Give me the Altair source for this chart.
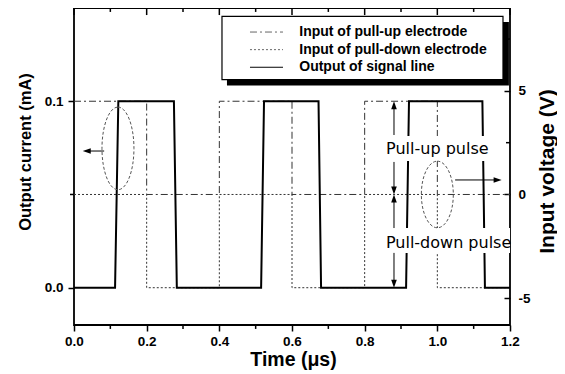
import altair as alt
import pandas as pd

# ---------------- data ----------------
series_names = ["Input of pull-up electrode", "Input of pull-down electrode", "Output of signal line"]

out_time = [0.0, 0.113, 0.122, 0.275, 0.283, 0.515, 0.523, 0.673, 0.680, 0.914, 0.922, 1.124, 1.131, 1.2]
out_current = [0.0, 0.0, 0.1, 0.1, 0.0, 0.0, 0.1, 0.1, 0.0, 0.0, 0.1, 0.1, 0.0, 0.0]

in_time = [0.0, 0.2, 0.4, 0.6, 0.8, 1.0, 1.2]
pullup_volt = [4.5, 0.0, 4.5, 0.0, 4.5, 0.0, 0.0]
pulldown_volt = [0.0, -4.5, 0.0, -4.5, 0.0, -4.5, -4.5]

x_major = [0.0, 0.2, 0.4, 0.6, 0.8, 1.0, 1.2]
x_minor = [0.1, 0.3, 0.5, 0.7, 0.9, 1.1]
left_major = [0.0, 0.1]
left_minor = [0.05]
right_major = [-5, 0, 5]
right_minor = [-2.5, 2.5, 7.5]

annot_labels = ["Pull-up pulse", "Pull-down pulse"]

# ---------------- scales ----------------
W, H = 436, 317
X = alt.Scale(domain=[0, 1.2], nice=False, zero=False)
YI = alt.Scale(domain=[-0.02, 0.15], nice=False, zero=False)
YV = alt.Scale(domain=[-6.3, 9.0], nice=False, zero=False)
dash_scale = alt.Scale(domain=series_names, range=[[7, 3, 2, 3], [2, 2], [1, 0]])
INK = "#333333"
TICK_W = 1.5

# ---------------- main series ----------------
in_df = pd.DataFrame({
    "t": in_time + in_time,
    "v": pullup_volt + pulldown_volt,
    "series": [series_names[0]] * len(in_time) + [series_names[1]] * len(in_time),
})
inputs = alt.Chart(in_df).mark_line(interpolate="step-after", color=INK, strokeWidth=1).encode(
    x=alt.X("t:Q", scale=X, axis=None),
    y=alt.Y("v:Q", scale=YV, axis=alt.Axis(
        orient="right", values=right_major, offset=-6, tickSize=6, labelPadding=8,
        labelExpr="replace(datum.label, '\u2212', '-')",
        title="Input voltage (V)", titleAngle=270, titleX=43, titleY=163,
        titleFontSize=21, titleAlign="center", titleBaseline="middle")),
    strokeDash=alt.StrokeDash("series:N", scale=dash_scale, legend=None),
    detail="series:N",
)

out_df = pd.DataFrame({"t": out_time, "i": out_current})
output = alt.Chart(out_df).mark_line(color="black", strokeWidth=2).encode(
    x=alt.X("t:Q", scale=X, axis=alt.Axis(
        orient="bottom", values=x_major, format=".1f", tickSize=6, labelPadding=3,
        title="Time (μs)", titleX=219, titleY=34, titleFontSize=19.5,
        titleAlign="center", titleBaseline="middle")),
    y=alt.Y("i:Q", scale=YI, axis=alt.Axis(
        orient="left", values=left_major, format=".1f", tickSize=6, labelPadding=5,
        title="Output current (mA)", titleAngle=270, titleX=-49, titleY=143.5,
        titleFontSize=16.5, titleAlign="center", titleBaseline="middle")),
)

# ---------------- extra tick marks (minor ticks and inward mirror ticks) ----------------
def tick_rules(t, t2, y, y2, scale):
    df = pd.DataFrame({"t": t, "t2": t2, "y": y, "y2": y2})
    return alt.Chart(df).mark_rule(color="black", strokeWidth=TICK_W).encode(
        x=alt.X("t:Q", scale=X, axis=None), x2="t2:Q",
        y=alt.Y("y:Q", scale=scale, axis=None), y2="y2:Q")

n_maj, n_min, n_rmin = len(x_major), len(x_minor), len(right_minor)
tick_layers = [
    # top, inward (major longer than minor)
    tick_rules(x_major, x_major, [9.0] * n_maj, [8.66] * n_maj, YV),
    tick_rules(x_minor, x_minor, [9.0] * n_min, [8.81] * n_min, YV),
    # bottom minor, outward
    tick_rules(x_minor, x_minor, [-6.3] * n_min, [-6.49] * n_min, YV),
    # right minor, inward
    tick_rules([1.189] * n_rmin, [1.2] * n_rmin, right_minor, right_minor, YV),
    # left minor, outward
    tick_rules([-0.011], [0.0], left_minor, left_minor, YI),
]

# ---------------- annotations ----------------
rect_df = pd.DataFrame({"x": [0.859, 0.859], "x2": [1.142, 1.2], "y": [2.82, -1.62], "y2": [1.62, -2.82]})
blanks = alt.Chart(rect_df).mark_rect(color="white").encode(
    x=alt.X("x:Q", scale=X, axis=None), x2="x2:Q",
    y=alt.Y("y:Q", scale=YV, axis=None), y2="y2:Q",
)

txt_df = pd.DataFrame({"label": annot_labels, "t": [1.0, 1.031], "v": [2.2, -2.34]})
texts = alt.Chart(txt_df).mark_text(font="DejaVu Sans", fontSize=16, color="black",
                                    align="center", baseline="middle").encode(
    x=alt.X("t:Q", scale=X, axis=None),
    y=alt.Y("v:Q", scale=YV, axis=None),
    text="label:N",
)

ell1_path = "M 0 -1 A 0.387 1 0 1 1 0 1 A 0.387 1 0 1 1 0 -1 Z"
ell1 = alt.Chart(pd.DataFrame({"t": [0.121], "i": [0.0747]})).mark_point(
    shape=ell1_path, size=6823, filled=False, color="#555555", strokeWidth=1,
    strokeDash=[3, 2], opacity=1).encode(
    x=alt.X("t:Q", scale=X, axis=None),
    y=alt.Y("i:Q", scale=YI, axis=None),
)

ell2_path = "M 0 -1 A 0.48 1 0 1 1 0 1 A 0.48 1 0 1 1 0 -1 Z"
ell2 = alt.Chart(pd.DataFrame({"t": [1.0], "v": [0.0]})).mark_point(
    shape=ell2_path, size=4436, filled=False, color="#555555", strokeWidth=1,
    strokeDash=[3, 2], opacity=1).encode(
    x=alt.X("t:Q", scale=X, axis=None),
    y=alt.Y("v:Q", scale=YV, axis=None),
)

# arrow pointing to the current axis (left)
shaft_i = alt.Chart(pd.DataFrame({"t": [0.083], "t2": [0.04], "i": [0.0733]})).mark_rule(
    color="black", strokeWidth=1).encode(
    x=alt.X("t:Q", scale=X, axis=None), x2="t2:Q",
    y=alt.Y("i:Q", scale=YI, axis=None),
)
head_i = alt.Chart(pd.DataFrame({"t": [0.024], "i": [0.0733]})).mark_point(
    shape="M 0 0 L 2 -0.7 L 2 0.7 Z", size=64, filled=True, color="black",
    strokeWidth=0, opacity=1).encode(
    x=alt.X("t:Q", scale=X, axis=None),
    y=alt.Y("i:Q", scale=YI, axis=None),
)

# arrows in voltage units
shaft_df = pd.DataFrame({
    "t": [1.049, 0.8807, 0.8807, 0.8807, 0.8807],
    "t2": [1.165, 0.8807, 0.8807, 0.8807, 0.8807],
    "v": [0.70, 2.87, 1.57, -1.62, -2.82],
    "v2": [0.70, 4.3, 0.2, -0.2, -4.3],
})
shafts_v = alt.Chart(shaft_df).mark_rule(color="black", strokeWidth=1).encode(
    x=alt.X("t:Q", scale=X, axis=None), x2="t2:Q",
    y=alt.Y("v:Q", scale=YV, axis=None), y2="v2:Q",
)
heads_df = pd.DataFrame({
    "t": [1.177, 0.8807, 0.8807, 0.8807, 0.8807],
    "v": [0.70, 4.5, 0.0, 0.0, -4.5],
    "dir": ["right", "up", "down", "up", "down"],
})
heads_v = alt.Chart(heads_df).mark_point(filled=True, size=64, strokeWidth=0, opacity=1,
                                         color="black").encode(
    x=alt.X("t:Q", scale=X, axis=None),
    y=alt.Y("v:Q", scale=YV, axis=None),
    shape=alt.Shape("dir:N", legend=None, scale=alt.Scale(
        domain=["right", "up", "down"],
        range=["M 0 0 L -2 -0.7 L -2 0.7 Z", "M 0 0 L -0.7 2 L 0.7 2 Z", "M 0 0 L -0.7 -2 L 0.7 -2 Z"])),
)

# ---------------- legend (box with shadow) ----------------
shadow = alt.Chart(pd.DataFrame({"x": [0.421], "x2": [1.197], "y": [8.32], "y2": [5.26]})).mark_rect(
    color="black").encode(
    x=alt.X("x:Q", scale=X, axis=None), x2="x2:Q",
    y=alt.Y("y:Q", scale=YV, axis=None), y2="y2:Q",
)
box = alt.Chart(pd.DataFrame({"x": [0.4073], "x2": [1.1807], "y": [8.6], "y2": [5.54]})).mark_rect(
    fill="white", stroke="black", strokeWidth=1.2).encode(
    x=alt.X("x:Q", scale=X, axis=None), x2="x2:Q",
    y=alt.Y("y:Q", scale=YV, axis=None), y2="y2:Q",
)
leg_df = pd.DataFrame({
    "series": series_names,
    "x": [0.4844] * 3, "x2": [0.5752] * 3, "tx": [0.62] * 3,
    "y": [7.84, 6.99, 6.14],
})
samples = alt.Chart(leg_df).mark_rule().encode(
    x=alt.X("x:Q", scale=X, axis=None), x2="x2:Q",
    y=alt.Y("y:Q", scale=YV, axis=None),
    strokeDash=alt.StrokeDash("series:N", scale=dash_scale, legend=None),
    color=alt.Color("series:N", legend=None,
                    scale=alt.Scale(domain=series_names, range=["#666666", "#666666", "black"])),
    strokeWidth=alt.StrokeWidth("series:N", legend=None,
                                scale=alt.Scale(domain=series_names, range=[1, 1, 2])),
)
leg_text = alt.Chart(leg_df).mark_text(font="Liberation Sans", fontSize=14, fontWeight="bold",
                                       color="black", align="left", baseline="middle").encode(
    x=alt.X("tx:Q", scale=X, axis=None),
    y=alt.Y("y:Q", scale=YV, axis=None),
    text="series:N",
)

chart = alt.layer(
    inputs, output, *tick_layers, blanks, texts, ell1, ell2, shaft_i, head_i, shafts_v, heads_v,
    shadow, box, samples, leg_text,
).resolve_scale(y="independent").resolve_axis(x="independent", y="independent").properties(
    width=W, height=H,
    padding={"left": 66, "top": 0, "right": 47, "bottom": 45},
    autosize=alt.AutoSizeParams(type="none"),
).configure_view(stroke="black", strokeWidth=1.8).configure_axis(
    labelFont="Liberation Sans", labelFontSize=13.5, labelFontWeight="bold", labelColor="black",
    labelFlush=False, tickColor="black", tickWidth=TICK_W, domain=False, grid=False, zindex=1,
    titleFont="Liberation Sans", titleFontWeight="bold", titleColor="black",
)

chart.save("out.html", embed_options={"renderer": "svg", "actions": False})
